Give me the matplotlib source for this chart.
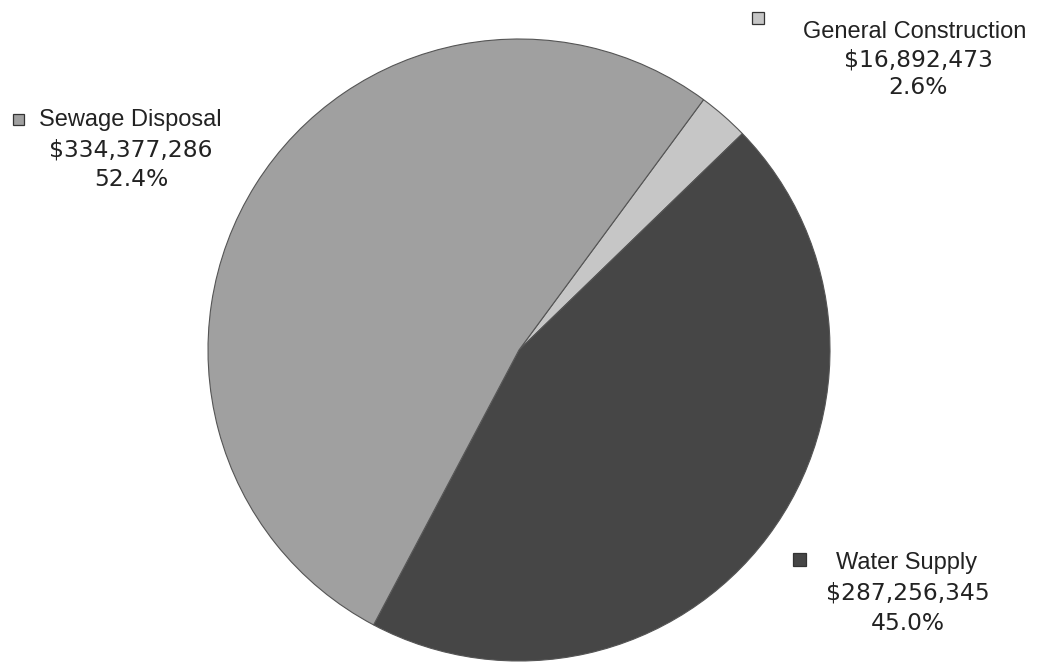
import numpy as np
import matplotlib.pyplot as plt

names = ['General Construction', 'Water Supply', 'Sewage Disposal']
amounts = [16892473, 287256345, 334377286]
percents = ['2.6%', '45.0%', '52.4%']
colors = ['#c6c6c6', '#464646', '#a0a0a0']

W, H = 1039, 670
fig = plt.figure(figsize=(W / 100, H / 100), dpi=100)
fig.patch.set_facecolor('white')

# pie centre (519, 350) px, radius 311 px
cx, cy, r = 519, 350, 311
ax = fig.add_axes([(cx - r) / W, (H - cy - r) / H, 2 * r / W, 2 * r / H])
ax.pie(amounts, colors=colors, startangle=53.6, counterclock=False,
       radius=1.0, wedgeprops=dict(edgecolor='#555555', linewidth=0.8))
ax.set_xlim(-1, 1)
ax.set_ylim(-1, 1)
ax.set_aspect('equal')
ax.axis('off')

def px(x, y):
    return x / W, 1 - y / H

# label blocks: marker centre, marker size, name centre, number centre x, first line y, line step
layout = [
    ((758, 18), 12, (915, 32), 918, 28),
    ((799, 559), 13, (907, 563), 908, 30),
    ((18, 119), 11, (130, 120), 131, 30),
]
for i, ((mx, my), s, (tx, ty), nx, step) in enumerate(layout):
    fig.patches.append(plt.Rectangle(px(mx - s / 2, my + s / 2), s / W, s / H,
                                     transform=fig.transFigure, facecolor=colors[i],
                                     edgecolor='#333333', linewidth=0.9))
    fig.text(*px(tx, ty), names[i], ha='center', va='center', fontsize=17,
             family='Liberation Sans', color='#222222')
    fig.text(*px(nx, ty + step), '${:,}'.format(amounts[i]), ha='center', va='center',
             fontsize=16.8, family='DejaVu Sans', color='#222222')
    fig.text(*px(nx, ty + 2 * step), percents[i], ha='center', va='center',
             fontsize=16.8, family='DejaVu Sans', color='#222222')

fig.savefig('out.png', dpi=100)
